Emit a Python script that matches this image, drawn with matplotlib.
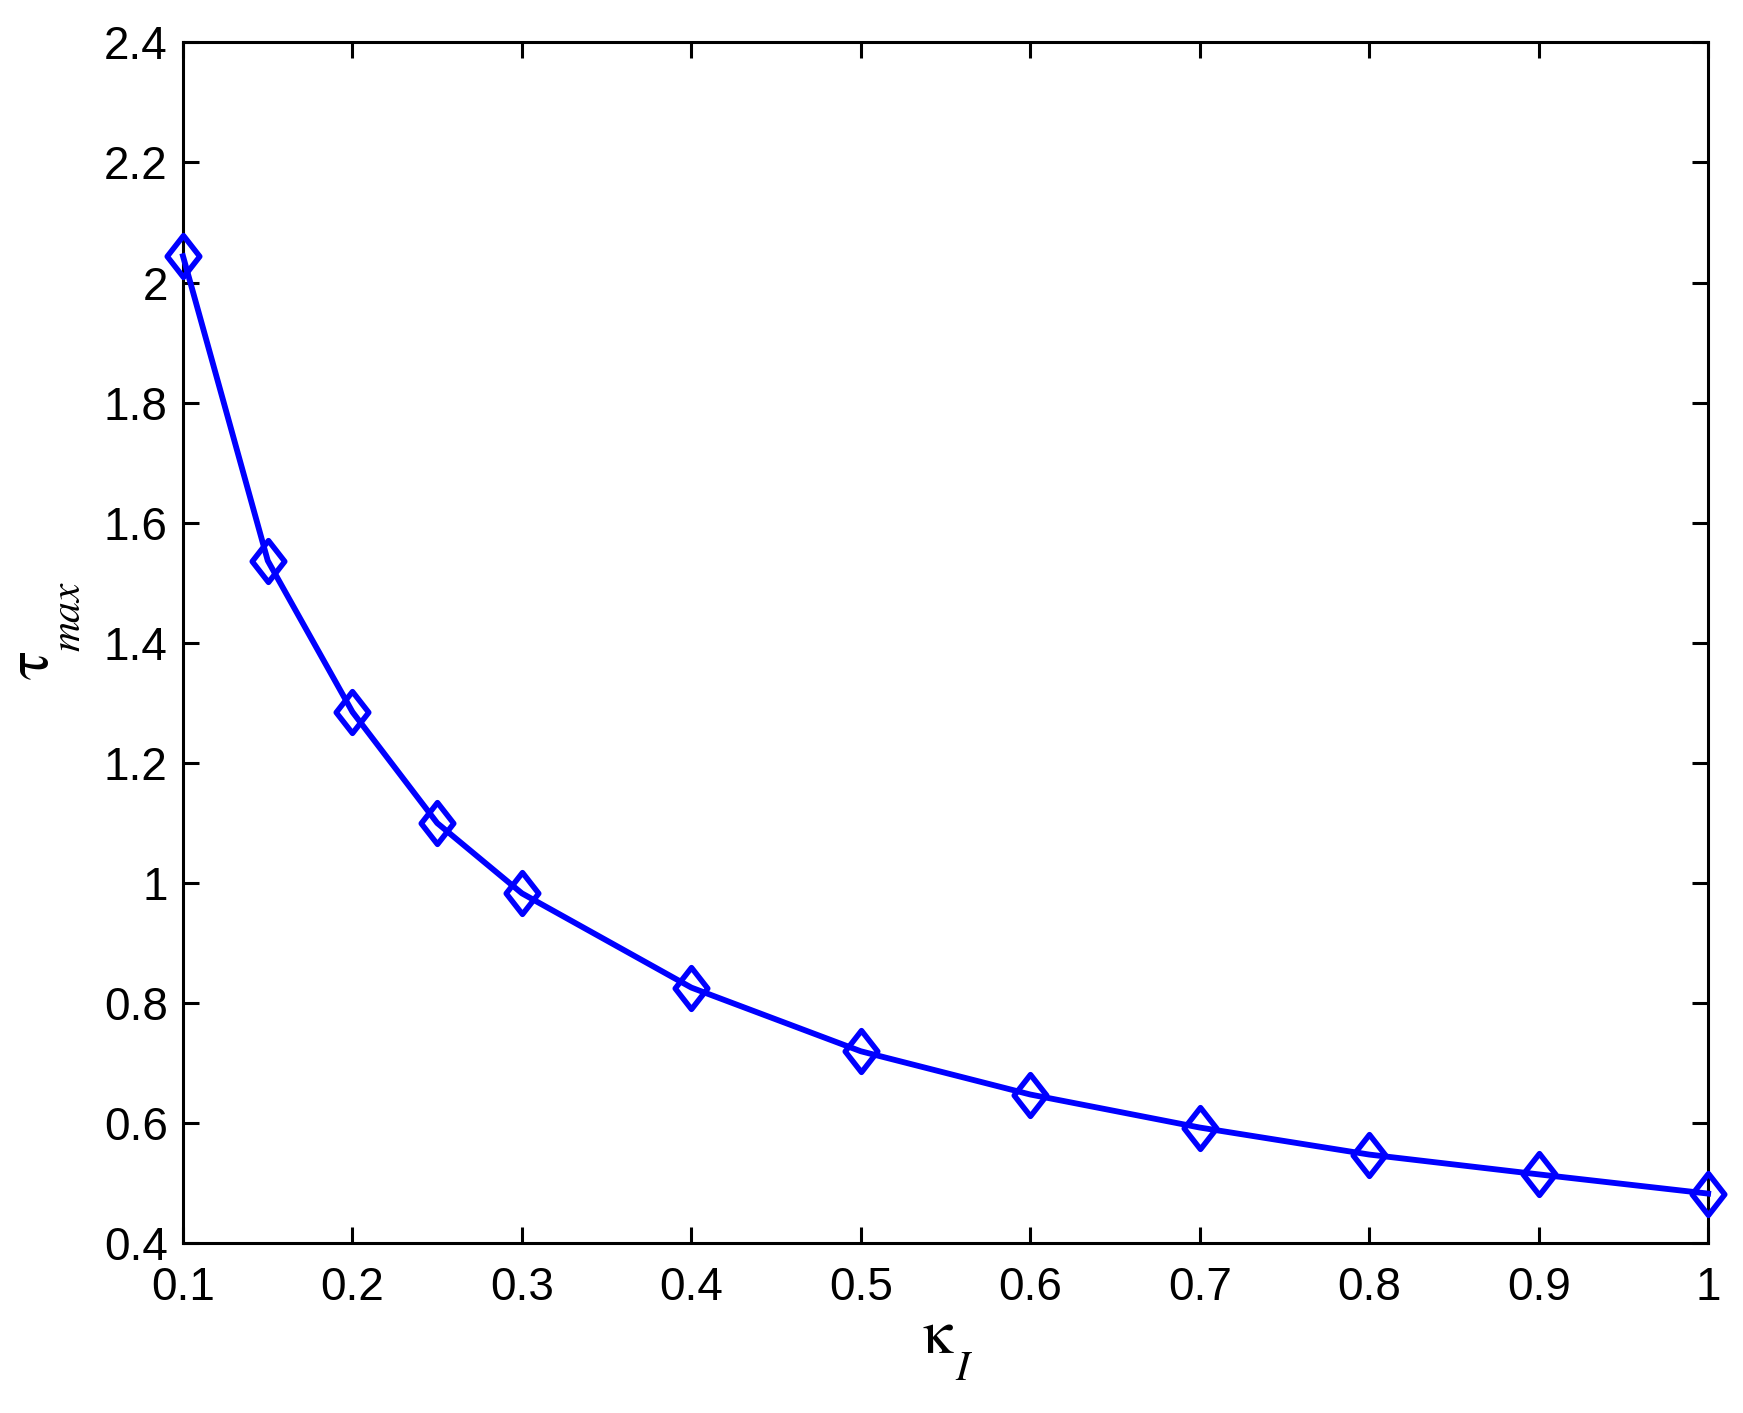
import numpy as np
import matplotlib.pyplot as plt
from matplotlib.path import Path
from matplotlib.ticker import FuncFormatter

# data
kappa_I = [0.1, 0.15, 0.2, 0.25, 0.3, 0.4, 0.5, 0.6, 0.7, 0.8, 0.9, 1.0]
tau_max = [2.044, 1.537, 1.285, 1.100, 0.983, 0.826, 0.720, 0.648, 0.593, 0.548, 0.515, 0.483]

x_ticks = [0.1, 0.2, 0.3, 0.4, 0.5, 0.6, 0.7, 0.8, 0.9, 1.0]
y_ticks = [0.4, 0.6, 0.8, 1.0, 1.2, 1.4, 1.6, 1.8, 2.0, 2.2, 2.4]

plt.rcParams['font.family'] = ['Liberation Sans', 'DejaVu Sans']
plt.rcParams['mathtext.fontset'] = 'stix'

# matlab style diamond (a bit taller than wide)
diamond = Path([(0, 1), (0.78, 0), (0, -1), (-0.78, 0), (0, 1)],
               [Path.MOVETO, Path.LINETO, Path.LINETO, Path.LINETO, Path.CLOSEPOLY])

fig = plt.figure(figsize=(17.43, 14.13), dpi=100)
ax = fig.add_axes([0.105, 0.120, 0.875, 0.850])

ax.plot(kappa_I, tau_max, color='#0000ff', linewidth=4.2,
        marker=diamond, markersize=30, markerfacecolor='none',
        markeredgecolor='#0000ff', markeredgewidth=4, clip_on=False, zorder=3)

ax.set_xlim(0.1, 1.0)
ax.set_ylim(0.4, 2.4)
ax.set_xticks(x_ticks)
ax.set_yticks(y_ticks)
fmt = FuncFormatter(lambda v, p: ('%.1f' % v).rstrip('0').rstrip('.'))
ax.xaxis.set_major_formatter(fmt)
ax.yaxis.set_major_formatter(fmt)

ax.tick_params(direction='in', length=11.5, width=2.2, labelsize=33,
               top=True, right=True)
ax.tick_params(axis='x', pad=16)
ax.tick_params(axis='y', pad=11)
for s in ax.spines.values():
    s.set_linewidth(2.2)

# labels: main symbol upright, subscript italic and dropped (matlab tex look)
ax.set_xlabel(r'$\mathrm{\kappa}$', fontsize=44, labelpad=-1, x=0.4956)
ax.set_ylabel(r'$\mathrm{\tau}$', fontsize=44, labelpad=31, y=0.481)
ax.annotate('I', xy=(1, 0), xycoords=ax.xaxis.label,
            xytext=(0, 11), textcoords='offset points',
            ha='left', va='top', fontsize=30,
            family='STIXGeneral', style='italic')
ax.annotate('max', xy=(1, 1), xycoords=ax.yaxis.label,
            xytext=(-8, 0), textcoords='offset points',
            ha='left', va='bottom', rotation=90, fontsize=30,
            family='STIXGeneral', style='italic')

fig.savefig('out.png', dpi=100, facecolor='white')
